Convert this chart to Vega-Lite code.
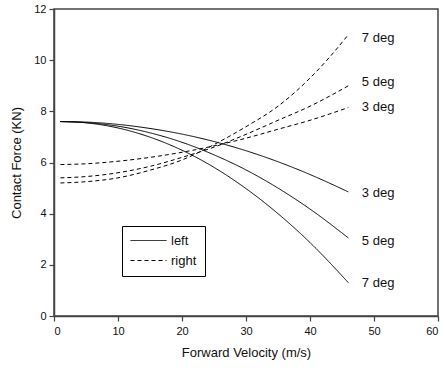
{
  "$schema": "https://vega.github.io/schema/vega-lite/v6.json",
  "width": 384,
  "height": 307,
  "autosize": {"type": "none"},
  "padding": {"left": 54, "top": 9, "right": 6, "bottom": 52},
  "background": "white",
  "config": {
    "font": "Liberation Sans",
    "view": {"stroke": "#444", "strokeWidth": 1.5},
    "axis": {
      "grid": false,
      "domainColor": "#444",
      "domainWidth": 1.5,
      "tickColor": "#444",
      "tickWidth": 1.2,
      "tickSize": 5,
      "labelFont": "Liberation Sans",
      "labelFontSize": 11,
      "labelColor": "#111",
      "titleFont": "Liberation Sans",
      "titleFontSize": 13,
      "titleFontWeight": "normal",
      "titleColor": "#111"
    }
  },
  "datasets": {
    "curves": [
      {"series": "left 3", "side": "left", "x": 1, "y": 7.6},
      {"series": "left 3", "side": "left", "x": 5, "y": 7.58},
      {"series": "left 3", "side": "left", "x": 10, "y": 7.49},
      {"series": "left 3", "side": "left", "x": 15, "y": 7.33},
      {"series": "left 3", "side": "left", "x": 20, "y": 7.11},
      {"series": "left 3", "side": "left", "x": 25, "y": 6.82},
      {"series": "left 3", "side": "left", "x": 30, "y": 6.46},
      {"series": "left 3", "side": "left", "x": 35, "y": 6.03},
      {"series": "left 3", "side": "left", "x": 40, "y": 5.53},
      {"series": "left 3", "side": "left", "x": 46, "y": 4.85},
      {"series": "left 5", "side": "left", "x": 1, "y": 7.6},
      {"series": "left 5", "side": "left", "x": 5, "y": 7.56},
      {"series": "left 5", "side": "left", "x": 10, "y": 7.42},
      {"series": "left 5", "side": "left", "x": 15, "y": 7.16},
      {"series": "left 5", "side": "left", "x": 20, "y": 6.79},
      {"series": "left 5", "side": "left", "x": 25, "y": 6.3},
      {"series": "left 5", "side": "left", "x": 30, "y": 5.71},
      {"series": "left 5", "side": "left", "x": 35, "y": 5.0},
      {"series": "left 5", "side": "left", "x": 40, "y": 4.18},
      {"series": "left 5", "side": "left", "x": 46, "y": 3.05},
      {"series": "left 7", "side": "left", "x": 1, "y": 7.6},
      {"series": "left 7", "side": "left", "x": 5, "y": 7.55},
      {"series": "left 7", "side": "left", "x": 10, "y": 7.35},
      {"series": "left 7", "side": "left", "x": 15, "y": 6.99},
      {"series": "left 7", "side": "left", "x": 20, "y": 6.48},
      {"series": "left 7", "side": "left", "x": 25, "y": 5.81},
      {"series": "left 7", "side": "left", "x": 30, "y": 4.98},
      {"series": "left 7", "side": "left", "x": 35, "y": 4.0},
      {"series": "left 7", "side": "left", "x": 40, "y": 2.87},
      {"series": "left 7", "side": "left", "x": 46, "y": 1.3},
      {"series": "right 3", "side": "right", "x": 1, "y": 5.92},
      {"series": "right 3", "side": "right", "x": 5, "y": 5.95},
      {"series": "right 3", "side": "right", "x": 10, "y": 6.05},
      {"series": "right 3", "side": "right", "x": 15, "y": 6.2},
      {"series": "right 3", "side": "right", "x": 20, "y": 6.4},
      {"series": "right 3", "side": "right", "x": 25, "y": 6.65},
      {"series": "right 3", "side": "right", "x": 30, "y": 6.95},
      {"series": "right 3", "side": "right", "x": 35, "y": 7.3},
      {"series": "right 3", "side": "right", "x": 40, "y": 7.65},
      {"series": "right 3", "side": "right", "x": 46, "y": 8.15},
      {"series": "right 5", "side": "right", "x": 1, "y": 5.4},
      {"series": "right 5", "side": "right", "x": 5, "y": 5.45},
      {"series": "right 5", "side": "right", "x": 10, "y": 5.6},
      {"series": "right 5", "side": "right", "x": 15, "y": 5.85},
      {"series": "right 5", "side": "right", "x": 20, "y": 6.2},
      {"series": "right 5", "side": "right", "x": 25, "y": 6.6},
      {"series": "right 5", "side": "right", "x": 30, "y": 7.1},
      {"series": "right 5", "side": "right", "x": 35, "y": 7.65},
      {"series": "right 5", "side": "right", "x": 40, "y": 8.2},
      {"series": "right 5", "side": "right", "x": 46, "y": 9.0},
      {"series": "right 7", "side": "right", "x": 1, "y": 5.2},
      {"series": "right 7", "side": "right", "x": 5, "y": 5.25},
      {"series": "right 7", "side": "right", "x": 10, "y": 5.4},
      {"series": "right 7", "side": "right", "x": 15, "y": 5.7},
      {"series": "right 7", "side": "right", "x": 20, "y": 6.1},
      {"series": "right 7", "side": "right", "x": 25, "y": 6.7},
      {"series": "right 7", "side": "right", "x": 30, "y": 7.4},
      {"series": "right 7", "side": "right", "x": 35, "y": 8.2},
      {"series": "right 7", "side": "right", "x": 40, "y": 9.3},
      {"series": "right 7", "side": "right", "x": 43, "y": 10.1},
      {"series": "right 7", "side": "right", "x": 46, "y": 11.0}
    ],
    "labels": [
      {"text": "7 deg", "x": 48.1, "y": 10.86},
      {"text": "5 deg", "x": 48.1, "y": 9.15},
      {"text": "3 deg", "x": 48.1, "y": 8.15},
      {"text": "3 deg", "x": 48.1, "y": 4.82},
      {"text": "5 deg", "x": 48.1, "y": 2.94},
      {"text": "7 deg", "x": 48.1, "y": 1.28}
    ]
  },
  "layer": [
    {
      "data": {"name": "curves"},
      "mark": {"type": "line", "color": "black", "strokeWidth": 1, "interpolate": "monotone"},
      "encoding": {
        "x": {
          "field": "x", "type": "quantitative",
          "scale": {"domain": [0, 60], "nice": false},
          "axis": {
            "title": "Forward Velocity (m/s)",
            "values": [0, 5, 10, 15, 20, 25, 30, 35, 40, 45, 50, 55, 60],
            "labelExpr": "datum.value % 10 == 0 ? datum.label : ''",
            "labelPadding": 4,
            "titlePadding": 10
          }
        },
        "y": {
          "field": "y", "type": "quantitative",
          "scale": {"domain": [0, 12], "nice": false},
          "axis": {
            "title": "Contact Force (KN)",
            "values": [0, 1, 2, 3, 4, 5, 6, 7, 8, 9, 10, 11, 12],
            "labelExpr": "datum.value % 2 == 0 ? datum.label : ''",
            "labelPadding": 3,
            "titlePadding": 10
          }
        },
        "detail": {"field": "series"},
        "strokeDash": {
          "field": "side", "type": "nominal",
          "scale": {"domain": ["left", "right"], "range": [[1, 0], [4, 3]]},
          "legend": {
            "title": null,
            "orient": "none",
            "legendX": 68,
            "legendY": 217,
            "strokeColor": "black",
            "fillColor": "white",
            "padding": 8,
            "symbolType": "M-1,0H5",
            "symbolSize": 144,
            "symbolStrokeColor": "black",
            "symbolStrokeWidth": 1,
            "labelFont": "Liberation Sans",
            "labelFontSize": 13,
            "labelColor": "#111",
            "rowPadding": 6,
            "labelOffset": 28
          }
        }
      }
    },
    {
      "data": {"name": "labels"},
      "mark": {"type": "text", "align": "left", "baseline": "middle", "fontSize": 13, "font": "Liberation Sans", "color": "#111"},
      "encoding": {
        "x": {"field": "x", "type": "quantitative"},
        "y": {"field": "y", "type": "quantitative"},
        "text": {"field": "text"}
      }
    }
  ]
}
